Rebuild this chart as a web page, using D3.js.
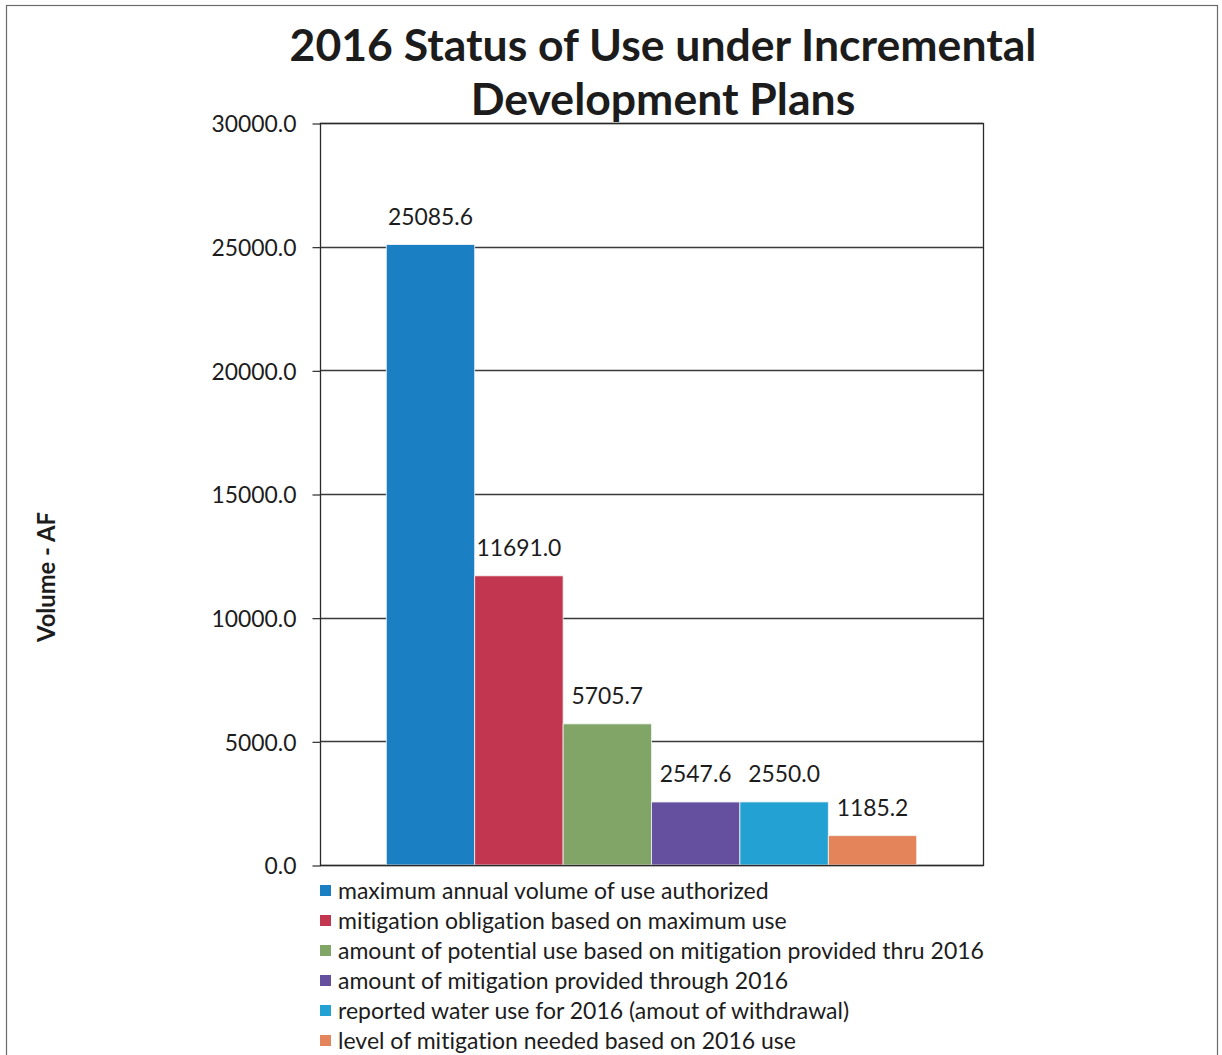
<!DOCTYPE html>
<html>
<head>
<meta charset="utf-8">
<script src="https://cdn.jsdelivr.net/npm/d3@7"></script>
<style>
  html, body { margin: 0; padding: 0; background: #fff; }
  svg { display: block; }
  text { font-family: Lato, "Open Sans", sans-serif; fill: #1c1c1c;
         font-variant-ligatures: none; font-feature-settings: "liga" 0, "clig" 0; }
</style>
</head>
<body>
<svg id="chart" width="1222" height="1055"></svg>
<script>
// Series shown as a single clustered group of bars
const seriesNames = [
  "maximum annual volume of use authorized",
  "mitigation obligation based on maximum use",
  "amount of potential use based on mitigation provided thru 2016",
  "amount of mitigation provided through 2016",
  "reported water use for 2016 (amout of withdrawal)",
  "level of mitigation needed based on 2016 use"
];
const seriesValues = [25085.6, 11691.0, 5705.7, 2547.6, 2550.0, 1185.2];
const seriesColors = ["#1b80c3", "#c2364f", "#80a566", "#6550a0", "#22a1d2", "#e4845a"];
const yTicks = [0, 5000, 10000, 15000, 20000, 25000, 30000];
const titleLines = ["2016 Status of Use under Incremental", "Development Plans"];
const yAxisTitle = "Volume - AF";

const svg = d3.select("#chart");
const plot = { left: 320, right: 983, top: 123, bottom: 865 };

// Scale a text element's font size so its rendered width matches a target
function fitWidth(sel, target) {
  sel.each(function () {
    const node = this;
    const fs = parseFloat(getComputedStyle(node).fontSize);
    const w = node.getComputedTextLength();
    if (w > 0) d3.select(node).style("font-size", (fs * target / w) + "px");
  });
}

// Outer frame
svg.append("rect")
  .attr("x", 6.5).attr("y", 5.5)
  .attr("width", 1211).attr("height", 1070)
  .attr("fill", "none").attr("stroke", "#6a6a6a").attr("stroke-width", 1.2);

const y = d3.scaleLinear().domain([0, 30000]).range([plot.bottom, plot.top]);
const x = d3.scaleBand().domain(seriesNames)
  .range([plot.left, plot.right]).paddingInner(0).paddingOuter(0.75);

// Gridlines
svg.append("g").selectAll("line").data(yTicks).join("line")
  .attr("x1", plot.left).attr("x2", plot.right)
  .attr("y1", d => Math.round(y(d)) + 0.5).attr("y2", d => Math.round(y(d)) + 0.5)
  .attr("stroke", "#3a3a3a").attr("stroke-width", 1.3);

// Bars
svg.append("g").selectAll("rect").data(seriesValues).join("rect")
  .attr("x", (d, i) => x(seriesNames[i]))
  .attr("width", x.bandwidth())
  .attr("y", d => y(d))
  .attr("height", d => y(0) - y(d))
  .attr("fill", (d, i) => seriesColors[i])
  .attr("stroke", "#f4f4f4").attr("stroke-width", 0.8);

// Plot border
svg.append("rect")
  .attr("x", plot.left + 0.5).attr("y", plot.top + 0.5)
  .attr("width", plot.right - plot.left).attr("height", plot.bottom - plot.top)
  .attr("fill", "none").attr("stroke", "#2a2a2a").attr("stroke-width", 1.3);

// Y axis
const yAxis = d3.axisLeft(y).tickValues(yTicks).tickFormat(d3.format(".1f"))
  .tickSize(8).tickPadding(16);
const gy = svg.append("g").attr("transform", `translate(${plot.left + 0.5},0.5)`).call(yAxis);
gy.select(".domain").remove();
gy.selectAll(".tick line").attr("stroke", "#2a2a2a").attr("stroke-width", 1.2);
gy.selectAll(".tick text")
  .style("font-family", "Lato, 'Open Sans', sans-serif")
  .style("font-size", "23px").attr("fill", "#1c1c1c").attr("dy", "0.36em");
fitWidth(gy.selectAll(".tick text").filter(d => d === 30000), 85);
const tickFs = gy.selectAll(".tick text").filter(d => d === 30000).style("font-size");
gy.selectAll(".tick text").style("font-size", tickFs);

// Value labels above bars
svg.append("g").selectAll("text").data(seriesValues).join("text")
  .attr("x", (d, i) => x(seriesNames[i]) + x.bandwidth() / 2)
  .attr("y", d => y(d) - 20)
  .attr("text-anchor", "middle")
  .style("font-size", tickFs)
  .text(d => d3.format(".1f")(d));

// Title
const title = svg.append("g").selectAll("text").data(titleLines).join("text")
  .attr("x", 663).attr("y", (d, i) => 61 + i * 54)
  .attr("text-anchor", "middle")
  .style("font-weight", "bold").style("font-size", "44px").attr("fill", "#1e1e1e")
  .text(d => d);
fitWidth(title.filter((d, i) => i === 0), 747);
title.filter((d, i) => i === 1).style("font-size", title.filter((d, i) => i === 0).style("font-size"));

// Y axis title
const yt = svg.append("text")
  .attr("transform", "translate(55,577) rotate(-90)")
  .attr("text-anchor", "middle")
  .style("font-weight", "bold").style("font-size", "21px")
  .text(yAxisTitle);
fitWidth(yt, 130);

// Legend
const legend = svg.append("g").attr("transform", "translate(320,0)");
const rows = legend.selectAll("g").data(seriesNames).join("g")
  .attr("transform", (d, i) => `translate(0,${891 + i * 30})`);
rows.append("rect")
  .attr("x", 0).attr("y", -6).attr("width", 11).attr("height", 11)
  .attr("fill", (d, i) => seriesColors[i]);
const ltext = rows.append("text")
  .attr("x", 18).attr("y", 0).attr("dy", "0.36em")
  .style("font-size", "21px")
  .text(d => d);
fitWidth(ltext.filter((d, i) => i === 0), 431);
ltext.style("font-size", ltext.filter((d, i) => i === 0).style("font-size"));
</script>
</body>
</html>
